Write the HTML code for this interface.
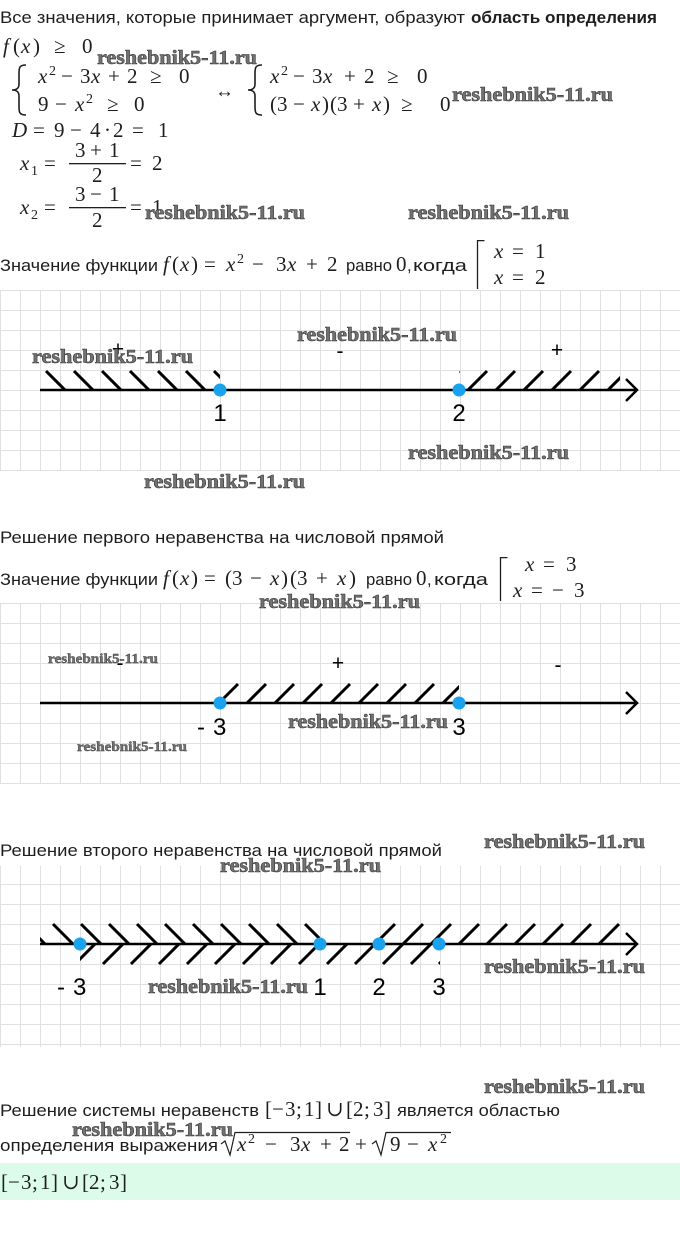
<!DOCTYPE html>
<html><head><meta charset="utf-8">
<style>
html,body{margin:0;padding:0;background:#fff;}
svg{display:block;}
text{font-family:"Liberation Sans",sans-serif;fill:#1e1e1e;}
.s{font-size:16.5px;}
.m{font-family:"Liberation Serif","DejaVu Serif",serif;font-size:21px;fill:#1e1e1e;}
.i{font-style:italic;}
.sup{font-size:14px;}
.w{font-family:"Liberation Serif",serif;font-weight:bold;font-size:20px;fill:#727272;stroke:#383838;stroke-width:0.55px;}
.ws{font-family:"Liberation Serif",serif;font-weight:bold;font-size:14px;fill:#727272;stroke:#383838;stroke-width:0.4px;}
.lb{font-size:24px;fill:#000;}
.pm{font-size:21px;fill:#000;}
</style></head>
<body>
<svg width="680" height="1233" viewBox="0 0 680 1233" xmlns="http://www.w3.org/2000/svg">
<defs>
<pattern id="p1" x="0" y="290" width="20" height="20" patternUnits="userSpaceOnUse"><path d="M0.5 0V20M0 0.5H20" stroke="#e0e0e0" stroke-width="1" fill="none"/></pattern>
<pattern id="p2" x="0" y="603" width="20" height="20" patternUnits="userSpaceOnUse"><path d="M0.5 0V20M0 0.5H20" stroke="#e0e0e0" stroke-width="1" fill="none"/></pattern>
<pattern id="p3" x="0" y="864" width="20" height="20" patternUnits="userSpaceOnUse"><path d="M0.5 0V20M0 0.5H20" stroke="#e0e0e0" stroke-width="1" fill="none"/></pattern>
<clipPath id="c1"><rect x="40" y="360" width="180" height="40"/></clipPath>
<clipPath id="c2"><rect x="459" y="360" width="161" height="40"/></clipPath>
<clipPath id="c3"><rect x="220" y="675" width="239" height="40"/></clipPath>
<clipPath id="c4"><rect x="40" y="915" width="280" height="30"/></clipPath>
<clipPath id="c5"><rect x="80" y="943" width="360" height="30"/></clipPath>
<clipPath id="c6"><rect x="379" y="915" width="241" height="30"/></clipPath>
</defs>

<!-- Line 1 -->
<text class="s" x="0" y="23" textLength="465" lengthAdjust="spacingAndGlyphs">Все значения, которые принимает аргумент, образуют</text>
<text class="s" x="471" y="23" font-weight="bold" textLength="186" lengthAdjust="spacingAndGlyphs">область определения</text>

<!-- f(x) >= 0 -->
<text class="m" y="53"><tspan x="3" class="i">f</tspan><tspan x="13">(</tspan><tspan x="21" class="i">x</tspan><tspan x="33">)</tspan><tspan x="54">≥</tspan><tspan x="82">0</tspan></text>
<text class="w" x="97" y="64" textLength="160" lengthAdjust="spacingAndGlyphs">reshebnik5-11.ru</text>

<!-- system 1 -->
<path d="M26 65 C19 65 19 68 19 74 L19 84 C19 88 17 90 12 90 C17 90 19 92 19 96 L19 106 C19 112 19 115 26 115" stroke="#1e1e1e" stroke-width="1.6" fill="none"/>
<text class="m" y="83"><tspan x="38" class="i">x</tspan><tspan class="sup" x="49" y="75">2</tspan><tspan x="61" y="83">−</tspan><tspan x="80">3</tspan><tspan x="91" class="i">x</tspan><tspan x="108">+</tspan><tspan x="127">2</tspan><tspan x="150">≥</tspan><tspan x="179">0</tspan></text>
<text class="m" y="111"><tspan x="38">9</tspan><tspan x="55">−</tspan><tspan x="75" class="i">x</tspan><tspan class="sup" x="86" y="103">2</tspan><tspan x="107" y="111">≥</tspan><tspan x="134">0</tspan></text>
<text class="m" x="215" y="97" style="font-size:19px">↔</text>
<path d="M262 65 C255 65 255 68 255 74 L255 84 C255 88 253 90 248 90 C253 90 255 92 255 96 L255 106 C255 112 255 115 262 115" stroke="#1e1e1e" stroke-width="1.6" fill="none"/>
<text class="m" y="83"><tspan x="270" class="i">x</tspan><tspan class="sup" x="281" y="75">2</tspan><tspan x="293" y="83">−</tspan><tspan x="312">3</tspan><tspan x="323" class="i">x</tspan><tspan x="344">+</tspan><tspan x="364">2</tspan><tspan x="387">≥</tspan><tspan x="417">0</tspan></text>
<text class="m" y="111"><tspan x="270">(</tspan><tspan x="277">3</tspan><tspan x="293">−</tspan><tspan x="311" class="i">x</tspan><tspan x="322">)</tspan><tspan x="330">(</tspan><tspan x="337">3</tspan><tspan x="353">+</tspan><tspan x="372" class="i">x</tspan><tspan x="383">)</tspan><tspan x="401">≥</tspan><tspan x="440">0</tspan></text>
<text class="w" x="452" y="101" textLength="161" lengthAdjust="spacingAndGlyphs">reshebnik5-11.ru</text>

<!-- D -->
<text class="m" y="137"><tspan x="12" class="i">D</tspan><tspan x="33">=</tspan><tspan x="54">9</tspan><tspan x="70">−</tspan><tspan x="90">4</tspan><tspan x="104">·</tspan><tspan x="113">2</tspan><tspan x="132">=</tspan><tspan x="158">1</tspan></text>

<!-- x1 -->
<text class="m" y="170"><tspan x="20" class="i">x</tspan><tspan class="sup" x="31" y="175">1</tspan><tspan x="44" y="170">=</tspan><tspan x="130">=</tspan><tspan x="152">2</tspan></text>
<text class="m" y="157"><tspan x="75">3</tspan><tspan x="90">+</tspan><tspan x="109">1</tspan></text>
<rect x="69" y="163" width="57" height="1.3" fill="#1e1e1e"/>
<text class="m" x="92" y="182">2</text>

<!-- x2 -->
<text class="m" y="214"><tspan x="20" class="i">x</tspan><tspan class="sup" x="31" y="219">2</tspan><tspan x="44" y="214">=</tspan><tspan x="130">=</tspan><tspan x="152">1</tspan></text>
<text class="m" y="201"><tspan x="75">3</tspan><tspan x="90">−</tspan><tspan x="109">1</tspan></text>
<rect x="69" y="207" width="57" height="1.3" fill="#1e1e1e"/>
<text class="m" x="92" y="227">2</text>
<text class="w" x="145" y="219" textLength="160" lengthAdjust="spacingAndGlyphs">reshebnik5-11.ru</text>
<text class="w" x="408" y="219" textLength="161" lengthAdjust="spacingAndGlyphs">reshebnik5-11.ru</text>

<!-- Значение 1 -->
<text class="s" x="0" y="271" textLength="158" lengthAdjust="spacingAndGlyphs">Значение функции</text>
<text class="m" y="271"><tspan x="163" class="i">f</tspan><tspan x="172">(</tspan><tspan x="180" class="i">x</tspan><tspan x="191">)</tspan><tspan x="204">=</tspan><tspan x="226" class="i">x</tspan><tspan class="sup" x="237" y="263">2</tspan><tspan x="252" y="271">−</tspan><tspan x="276">3</tspan><tspan x="287" class="i">x</tspan><tspan x="306">+</tspan><tspan x="327">2</tspan></text>
<text class="s" x="346" y="271" textLength="46" lengthAdjust="spacingAndGlyphs">равно</text>
<text class="m" x="396" y="271">0</text>
<text class="s" x="407" y="271">,</text>
<text class="s" x="413" y="271" textLength="54" lengthAdjust="spacingAndGlyphs">когда</text>
<path d="M477.5 289V240.6H484.5" stroke="#1e1e1e" stroke-width="1.3" fill="none"/>
<text class="m" y="258"><tspan x="494" class="i">x</tspan><tspan x="512">=</tspan><tspan x="535">1</tspan></text>
<text class="m" y="284"><tspan x="494" class="i">x</tspan><tspan x="512">=</tspan><tspan x="535">2</tspan></text>

<!-- Grid 1 -->
<rect x="0" y="290" width="680" height="181" fill="url(#p1)"/>
<path d="M46 371L65 390M74 371L93 390M102 371L121 390M130 371L149 390M158 371L177 390M186 371L205 390M214 371L233 390" stroke="#000" stroke-width="3" clip-path="url(#c1)"/>
<path d="M440 390L459 371M468 390L487 371M496 390L515 371M524 390L543 371M552 390L571 371M580 390L599 371M608 390L627 371" stroke="#000" stroke-width="3" clip-path="url(#c2)"/>
<path d="M40 390H636M626 379L637 390L626 401" stroke="#000" stroke-width="2.5" fill="none"/>
<circle cx="220" cy="390" r="6.5" fill="#19a3ef"/>
<circle cx="459" cy="390" r="6.5" fill="#19a3ef"/>
<text class="lb" x="220" y="421" text-anchor="middle">1</text>
<text class="lb" x="459" y="421" text-anchor="middle">2</text>
<text class="pm" x="118" y="356" text-anchor="middle">+</text>
<text class="pm" x="340" y="358" text-anchor="middle">-</text>
<text class="pm" x="557" y="357" text-anchor="middle">+</text>
<text class="w" x="297" y="341" textLength="160" lengthAdjust="spacingAndGlyphs">reshebnik5-11.ru</text>
<text class="w" x="32" y="363" textLength="161" lengthAdjust="spacingAndGlyphs">reshebnik5-11.ru</text>
<text class="w" x="408" y="459" textLength="161" lengthAdjust="spacingAndGlyphs">reshebnik5-11.ru</text>
<text class="w" x="144" y="488" textLength="161" lengthAdjust="spacingAndGlyphs">reshebnik5-11.ru</text>

<!-- Решение первого -->
<text class="s" x="0" y="543" textLength="444" lengthAdjust="spacingAndGlyphs">Решение первого неравенства на числовой прямой</text>

<!-- Значение 2 -->
<text class="s" x="0" y="585" textLength="158" lengthAdjust="spacingAndGlyphs">Значение функции</text>
<text class="m" y="585"><tspan x="163" class="i">f</tspan><tspan x="172">(</tspan><tspan x="180" class="i">x</tspan><tspan x="191">)</tspan><tspan x="204">=</tspan><tspan x="225">(</tspan><tspan x="232">3</tspan><tspan x="250">−</tspan><tspan x="270" class="i">x</tspan><tspan x="281">)</tspan><tspan x="290">(</tspan><tspan x="297">3</tspan><tspan x="316">+</tspan><tspan x="337" class="i">x</tspan><tspan x="349">)</tspan></text>
<text class="s" x="366" y="585" textLength="46" lengthAdjust="spacingAndGlyphs">равно</text>
<text class="m" x="416" y="585">0</text>
<text class="s" x="427" y="585">,</text>
<text class="s" x="434" y="585" textLength="54" lengthAdjust="spacingAndGlyphs">когда</text>
<path d="M500.5 601V557.6H507.5" stroke="#1e1e1e" stroke-width="1.3" fill="none"/>
<text class="m" y="571"><tspan x="525" class="i">x</tspan><tspan x="543">=</tspan><tspan x="566">3</tspan></text>
<text class="m" y="597"><tspan x="513" class="i">x</tspan><tspan x="531">=</tspan><tspan x="552">−</tspan><tspan x="574">3</tspan></text>

<!-- Grid 2 -->
<rect x="0" y="603" width="680" height="181" fill="url(#p2)"/>
<text class="w" x="259" y="608" textLength="161" lengthAdjust="spacingAndGlyphs">reshebnik5-11.ru</text>
<path d="M219 703L238 684M247 703L266 684M275 703L294 684M303 703L322 684M331 703L350 684M359 703L378 684M387 703L406 684M415 703L434 684M443 703L462 684" stroke="#000" stroke-width="3" clip-path="url(#c3)"/>
<path d="M40 703H636M626 692L637 703L626 714" stroke="#000" stroke-width="2.5" fill="none"/>
<circle cx="220" cy="703" r="6.5" fill="#19a3ef"/>
<circle cx="459" cy="703" r="6.5" fill="#19a3ef"/>
<text class="lb" x="197" y="735">-</text>
<text class="lb" x="213" y="735">3</text>
<text class="lb" x="459" y="735" text-anchor="middle">3</text>
<text class="pm" x="120" y="670" text-anchor="middle">-</text>
<text class="pm" x="338" y="670" text-anchor="middle">+</text>
<text class="pm" x="558" y="672" text-anchor="middle">-</text>
<text class="ws" x="48" y="663" textLength="110" lengthAdjust="spacingAndGlyphs">reshebnik5-11.ru</text>
<text class="ws" x="77" y="751" textLength="110" lengthAdjust="spacingAndGlyphs">reshebnik5-11.ru</text>
<text class="w" x="288" y="728" textLength="160" lengthAdjust="spacingAndGlyphs">reshebnik5-11.ru</text>

<!-- Решение второго -->
<text class="s" x="0" y="856" textLength="442" lengthAdjust="spacingAndGlyphs">Решение второго неравенства на числовой прямой</text>
<text class="w" x="484" y="848" textLength="161" lengthAdjust="spacingAndGlyphs">reshebnik5-11.ru</text>

<!-- Grid 3 -->
<rect x="0" y="866" width="680" height="181" fill="url(#p3)"/>
<text class="w" x="220" y="872" textLength="161" lengthAdjust="spacingAndGlyphs">reshebnik5-11.ru</text>
<path d="M25 924L45 944M53 924L73 944M81 924L101 944M109 924L129 944M137 924L157 944M165 924L185 944M193 924L213 944M221 924L241 944M249 924L269 944M277 924L297 944M305 924L325 944" stroke="#000" stroke-width="3" clip-path="url(#c4)"/>
<path d="M75 964L95 944M103 964L123 944M131 964L151 944M159 964L179 944M187 964L207 944M215 964L235 944M243 964L263 944M271 964L291 944M299 964L319 944M327 964L347 944M355 964L375 944M383 964L403 944M411 964L431 944M439 964L459 944" stroke="#000" stroke-width="3" clip-path="url(#c5)"/>
<path d="M375 944L395 924M403 944L423 924M431 944L451 924M459 944L479 924M487 944L507 924M515 944L535 924M543 944L563 924M571 944L591 924M599 944L619 924" stroke="#000" stroke-width="3" clip-path="url(#c6)"/>
<path d="M40 944H636M626 933L637 944L626 955" stroke="#000" stroke-width="2.5" fill="none"/>
<circle cx="80" cy="944" r="6.5" fill="#19a3ef"/>
<circle cx="320" cy="944" r="6.5" fill="#19a3ef"/>
<circle cx="379" cy="944" r="6.5" fill="#19a3ef"/>
<circle cx="439" cy="944" r="6.5" fill="#19a3ef"/>
<text class="lb" x="57" y="995">-</text>
<text class="lb" x="73" y="995">3</text>
<text class="lb" x="320" y="995" text-anchor="middle">1</text>
<text class="lb" x="379" y="995" text-anchor="middle">2</text>
<text class="lb" x="439" y="995" text-anchor="middle">3</text>
<text class="w" x="148" y="993" textLength="160" lengthAdjust="spacingAndGlyphs">reshebnik5-11.ru</text>
<text class="w" x="484" y="973" textLength="161" lengthAdjust="spacingAndGlyphs">reshebnik5-11.ru</text>

<!-- bottom -->
<text class="w" x="484" y="1093" textLength="161" lengthAdjust="spacingAndGlyphs">reshebnik5-11.ru</text>
<text class="s" x="0" y="1116" textLength="259" lengthAdjust="spacingAndGlyphs">Решение системы неравенств</text>
<text class="m" y="1116"><tspan x="265">[</tspan><tspan x="272">−</tspan><tspan x="285">3</tspan><tspan x="296">;</tspan><tspan x="304">1</tspan><tspan x="315">]</tspan><tspan x="326">∪</tspan><tspan x="346">[</tspan><tspan x="353">2</tspan><tspan x="364">;</tspan><tspan x="373">3</tspan><tspan x="384">]</tspan></text>
<text class="s" x="397" y="1116" textLength="163" lengthAdjust="spacingAndGlyphs">является областью</text>
<text class="w" x="72" y="1136" textLength="161" lengthAdjust="spacingAndGlyphs">reshebnik5-11.ru</text>
<text class="s" x="0" y="1151" textLength="218" lengthAdjust="spacingAndGlyphs">определения выражения</text>
<path d="M221 1144L225 1141L230 1155L235 1132.5H350" stroke="#1e1e1e" stroke-width="1.2" fill="none"/>
<text class="m" y="1151"><tspan x="237" class="i">x</tspan><tspan class="sup" x="248" y="1143">2</tspan><tspan x="265" y="1151">−</tspan><tspan x="290">3</tspan><tspan x="301" class="i">x</tspan><tspan x="320">+</tspan><tspan x="339">2</tspan><tspan x="355">+</tspan><tspan x="390">9</tspan><tspan x="407">−</tspan><tspan x="428" class="i">x</tspan><tspan class="sup" x="440" y="1143">2</tspan></text>
<path d="M372 1144L376 1141L381 1155L386 1132.5H451" stroke="#1e1e1e" stroke-width="1.2" fill="none"/>

<rect x="0" y="1163" width="680" height="37" fill="#dcfce9"/>
<text class="m" y="1189"><tspan x="1">[</tspan><tspan x="8">−</tspan><tspan x="21">3</tspan><tspan x="32">;</tspan><tspan x="40">1</tspan><tspan x="51">]</tspan><tspan x="62">∪</tspan><tspan x="82">[</tspan><tspan x="89">2</tspan><tspan x="100">;</tspan><tspan x="109">3</tspan><tspan x="120">]</tspan></text>
</svg>
</body></html>
